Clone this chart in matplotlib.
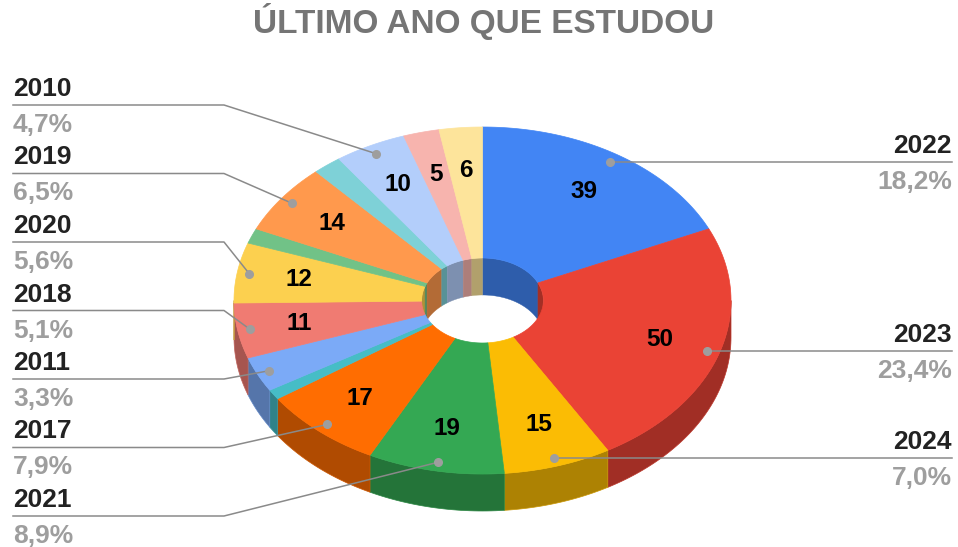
import matplotlib
matplotlib.use('Agg')
import matplotlib.pyplot as plt
from matplotlib.patches import Polygon
from matplotlib.colors import to_rgb
import numpy as np

plt.rcParams['font.family'] = ['Liberation Sans', 'DejaVu Sans']

# dados (sentido horário a partir do topo)
anos = ['2022', '2023', '2024', '2021', '2017', '', '2011', '2018',
        '2020', '', '2019', '', '2010', '', '']
valores = [39, 50, 15, 19, 17, 2, 7, 11, 12, 3, 14, 4, 10, 5, 6]
mostra_valor = [1, 1, 1, 1, 1, 0, 0, 1, 1, 0, 1, 0, 1, 1, 1]
cores = ['#4285F4', '#EA4335', '#FBBC04', '#34A853', '#FF6D01', '#46BDC6',
         '#7BAAF7', '#F07B72', '#FCD04F', '#71C287', '#FF994D', '#7ED1D7',
         '#B3CEFB', '#F7B4AE', '#FDE49B']
titulo = 'ÚLTIMO ANO QUE ESTUDOU'

# geometria do "3D" (pixels)
cx, cy = 482.5, 300.5
rx, ry = 248.5, 173.5
furo = 0.245
prof = 37


def escuro(c, f=0.69):
    r, g, b = to_rgb(c)
    return (r * f, g * f, b * f)


def ponto(ang, r, dz=0.0):
    a = np.radians(ang)
    return cx + r * rx * np.sin(a), cy - r * ry * np.cos(a) + dz


def arco(a1, a2, r, dz=0.0, n=None):
    if n is None:
        n = max(int(abs(a2 - a1)) + 2, 3)
    t = np.linspace(a1, a2, n)
    x, y = ponto(t, r, dz)
    return np.column_stack([x, y])


def intersec(a1, a2, b1, b2):
    lo, hi = max(a1, b1), min(a2, b2)
    return (lo, hi) if hi > lo else None


fig = plt.figure(figsize=(9.58, 5.47), dpi=100)
ax = fig.add_axes([0, 0, 1, 1])
ax.set_xlim(0, 958)
ax.set_ylim(547, 0)
ax.axis('off')

total = sum(valores)
cum = np.concatenate([[0], np.cumsum(valores)]) / total * 360.0

for i, c in enumerate(cores):
    a1, a2 = cum[i], cum[i + 1]
    # parede externa (frente)
    s = intersec(a1, a2, 90, 270)
    if s:
        top = arco(s[0], s[1], 1.0)
        bot = arco(s[1], s[0], 1.0, prof)
        ax.add_patch(Polygon(np.vstack([top, bot]), closed=True,
                             facecolor=escuro(c), edgecolor=escuro(c, 0.8),
                             lw=0.5, zorder=1))
    # parede interna (fundo do furo)
    for b1, b2 in [(270, 360), (0, 90)]:
        s = intersec(a1, a2, b1, b2)
        if s:
            top = arco(s[0], s[1], furo)
            bot = arco(s[1], s[0], furo, prof)
            ax.add_patch(Polygon(np.vstack([top, bot]), closed=True,
                                 facecolor=escuro(c, 0.7), edgecolor=escuro(c, 0.7),
                                 lw=0.3, zorder=2))

# face superior
for i, c in enumerate(cores):
    a1, a2 = cum[i], cum[i + 1]
    pts = np.vstack([arco(a1, a2, 1.0), arco(a2, a1, furo)])
    ax.add_patch(Polygon(pts, closed=True, facecolor=c, edgecolor=c,
                         lw=0.5, zorder=3))

# valores dentro das fatias
for i, v in enumerate(valores):
    if mostra_valor[i]:
        m = (cum[i] + cum[i + 1]) / 2
        x, y = ponto(m, 0.75)
        ax.text(x, y, str(v), ha='center', va='center', fontsize=17.5,
                fontweight='bold', color='#000000', zorder=5)

# rótulos externos
cor_linha = '#8a8a8a'
esq = [i for i, a in enumerate(anos) if a and (cum[i] + cum[i + 1]) / 2 > 180]
esq.sort(key=lambda i: -(cum[i] + cum[i + 1]))
dir_ = [i for i, a in enumerate(anos) if a and (cum[i] + cum[i + 1]) / 2 <= 180]

for k, i in enumerate(esq):
    m = (cum[i] + cum[i + 1]) / 2
    px, py = ponto(m, 0.95)
    ly = 105 + k * 68.5
    ax.plot([13, 224, px], [ly, ly, py], color=cor_linha, lw=1.1, zorder=6)
    ax.plot(px, py, 'o', ms=5.5, color='#9e9e9e', zorder=7)
    pct = f'{valores[i] / total * 100:.1f}%'.replace('.', ',')
    ax.text(13, ly - 9, anos[i], ha='left', va='baseline', fontsize=19,
            fontweight='bold', color='#222222')
    ax.text(13, ly + 27, pct, ha='left', va='baseline', fontsize=19,
            fontweight='bold', color='#9e9e9e')

for i in dir_:
    m = (cum[i] + cum[i + 1]) / 2
    px, py = ponto(m, 0.95)
    ax.plot([px, 952], [py, py], color=cor_linha, lw=1.1, zorder=6)
    ax.plot(px, py, 'o', ms=5.5, color='#9e9e9e', zorder=7)
    pct = f'{valores[i] / total * 100:.1f}%'.replace('.', ',')
    ax.text(952, py - 9, anos[i], ha='right', va='baseline', fontsize=19,
            fontweight='bold', color='#222222')
    ax.text(952, py + 27, pct, ha='right', va='baseline', fontsize=19,
            fontweight='bold', color='#9e9e9e')

ax.text(483.5, 33, titulo, ha='center', va='baseline', fontsize=24,
        fontweight='bold', color='#757575')

fig.savefig('out.png', dpi=100)
